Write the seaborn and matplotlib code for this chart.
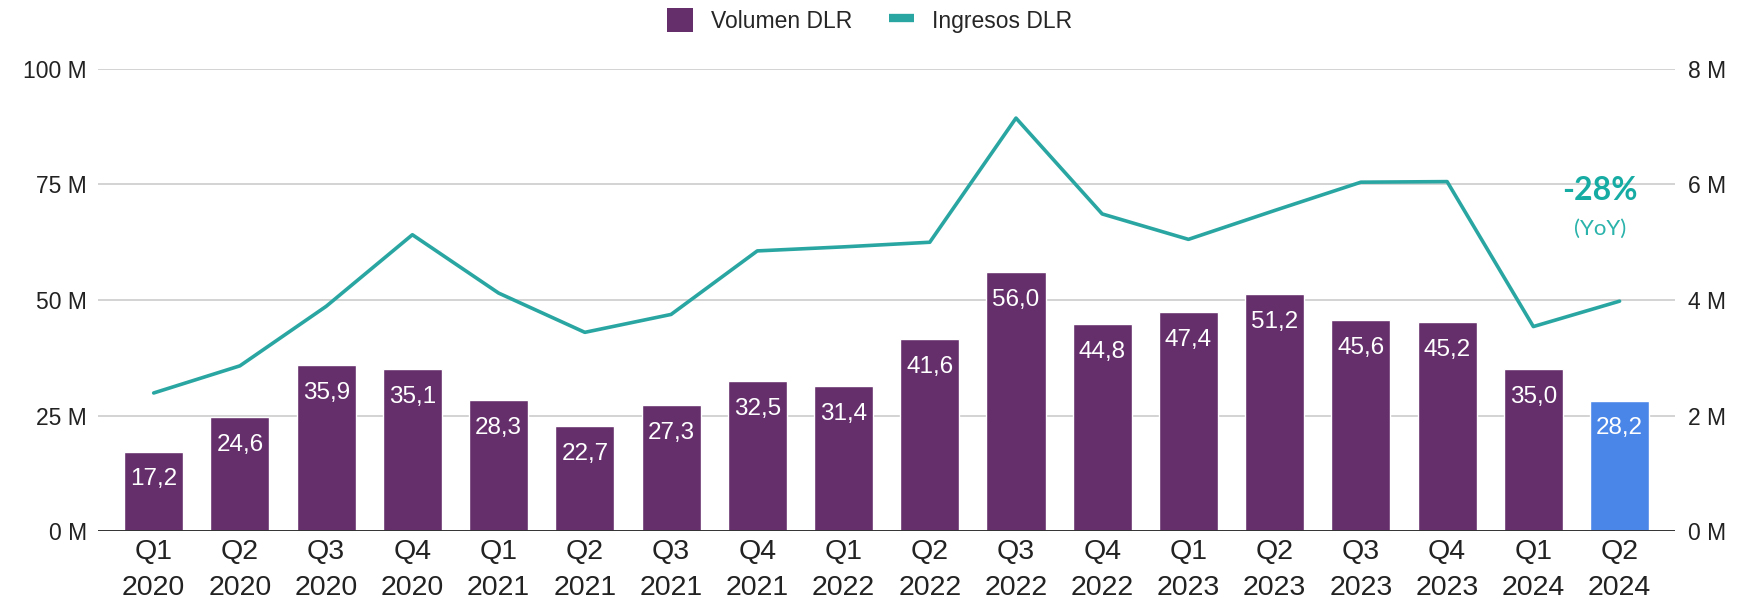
import numpy as np
import pandas as pd
import seaborn as sns
import matplotlib.pyplot as plt
from matplotlib.patches import Patch
from matplotlib.lines import Line2D

# data (volumen in M, ingresos in M)
quarters = ["Q1\n2020", "Q2\n2020", "Q3\n2020", "Q4\n2020",
            "Q1\n2021", "Q2\n2021", "Q3\n2021", "Q4\n2021",
            "Q1\n2022", "Q2\n2022", "Q3\n2022", "Q4\n2022",
            "Q1\n2023", "Q2\n2023", "Q3\n2023", "Q4\n2023",
            "Q1\n2024", "Q2\n2024"]
volumen = [17.2, 24.6, 35.9, 35.1, 28.3, 22.7, 27.3, 32.5, 31.4,
           41.6, 56.0, 44.8, 47.4, 51.2, 45.6, 45.2, 35.0, 28.2]
ingresos = [2.39, 2.86, 3.89, 5.13, 4.12, 3.44, 3.75, 4.85, 4.92,
            5.00, 7.15, 5.49, 5.05, 5.55, 6.04, 6.05, 3.54, 3.98]
bar_labels = ["17,2", "24,6", "35,9", "35,1", "28,3", "22,7", "27,3", "32,5", "31,4",
              "41,6", "56,0", "44,8", "47,4", "51,2", "45,6", "45,2", "35,0", "28,2"]
left_ticks = [0, 25, 50, 75, 100]
right_ticks = [0, 2, 4, 6, 8]

purple = "#652f6c"
blue = "#4a86e8"
teal = "#2aa6a2"

sns.set_style("white")
plt.rcParams["font.family"] = ["Liberation Sans", "DejaVu Sans"]

df = pd.DataFrame({"q": quarters, "vol": volumen, "ing": ingresos})
colors = [purple] * (len(quarters) - 1) + [blue]

fig = plt.figure(figsize=(17.45, 6.10), dpi=100)
ax = fig.add_axes([0.0562, 0.1295, 0.9038, 0.7574])

sns.barplot(data=df, x="q", y="vol", hue="q", palette=colors, legend=False,
            width=0.685, ax=ax, zorder=2, saturation=1)

# white labels inside the bar tops
for i, (v, lab) in enumerate(zip(volumen, bar_labels)):
    ax.annotate(lab, (i, v), xytext=(0, -20), textcoords="offset points",
                ha="center", va="center", color="white", fontsize=17.5, zorder=4)

ax.set_ylim(0, 100)
ax.set_xlim(-0.645, len(quarters) - 1 + 0.645)
ax.set_yticks(left_ticks)
ax.set_yticklabels([f"{t} M" for t in left_ticks])
ax.grid(axis="y", color="#d0d0d0", lw=1.3, zorder=0)
ax.set_axisbelow(True)
ax.axhline(0, color="#333333", lw=1.4, zorder=3)
ax.set_xlabel("")
ax.set_ylabel("")
ax.tick_params(axis="y", length=0, pad=8, labelsize=16.5, colors="#222222")
ax.tick_params(axis="x", length=0, pad=6, labelsize=20.5, colors="#222222")
for lab in ax.get_xticklabels():
    lab.set_linespacing(1.5)
sns.despine(ax=ax, left=True, bottom=True)

ax2 = ax.twinx()
sns.lineplot(x=np.arange(len(quarters)), y=ingresos, ax=ax2, color=teal, lw=2.6, zorder=5)
ax2.set_ylim(0, 8)
ax2.set_yticks(right_ticks)
ax2.set_yticklabels([f"{t} M" for t in right_ticks])
ax2.tick_params(axis="y", length=0, pad=9, labelsize=16.5, colors="#222222")
ax2.set_ylabel("")
sns.despine(ax=ax2, left=True, bottom=True, right=True)
ax2.patch.set_visible(False)

ax2.text(0.9524, 0.737, "-28%", transform=ax2.transAxes, ha="center", va="center",
         fontsize=23, fontweight="bold", color="#16aca4", family=["Lato", "DejaVu Sans"])
ax2.text(0.9524, 0.655, "(YoY)", transform=ax2.transAxes, ha="center", va="center",
         fontsize=16, color="#2ab3ab", family=["Lato", "DejaVu Sans"])

handles = [Patch(facecolor=purple, edgecolor="none", label="Volumen DLR"),
           Line2D([0], [0], color=teal, lw=6, solid_capstyle="butt", label="Ingresos DLR")]
fig.legend(handles=handles, loc="center", bbox_to_anchor=(0.4986, 0.967), ncol=2,
           frameon=False, fontsize=16.5, handlelength=1.1, handleheight=1.25,
           handletextpad=0.8, columnspacing=1.6)

fig.savefig("out.png", dpi=100)
